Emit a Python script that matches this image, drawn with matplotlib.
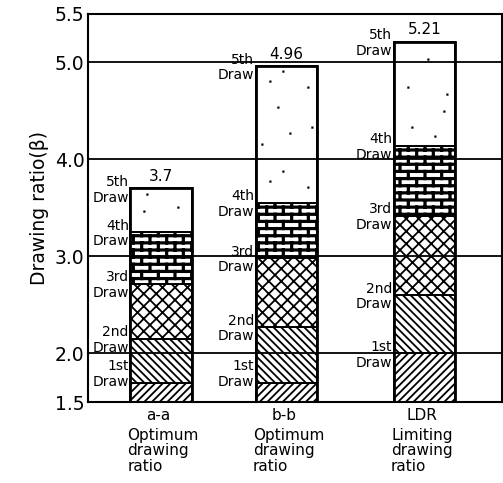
import warnings
warnings.filterwarnings("ignore")
import numpy as np
import matplotlib
matplotlib.use("Agg")
import matplotlib.pyplot as plt
from matplotlib import hatch as mhatch
from matplotlib.path import Path

# ---------------- data ----------------
categories = ["a-a", "b-b", "LDR"]
cat_desc = ["Optimum\ndrawing\nratio", "Optimum\ndrawing\nratio", "Limiting\ndrawing\nratio"]
x_pos = [0.0, 1.0, 2.1]
# cumulative drawing ratio at the end of each draw (1st..5th)
aa_tops = [1.70, 2.15, 2.72, 3.25, 3.70]
bb_tops = [1.70, 2.27, 2.98, 3.55, 4.96]
ldr_tops = [2.00, 2.60, 3.42, 4.14, 5.21]
draw_labels = ["1st\nDraw", "2nd\nDraw", "3rd\nDraw", "4th\nDraw", "5th\nDraw"]
total_labels = ["3.7", "4.96", "5.21"]
y_base = 1.5
y_ticks = [1.5, 2.0, 3.0, 4.0, 5.0, 5.5]
y_ticklabels = ["1.5", "2.0", "3.0", "4.0", "5.0", "5.5"]
grid_vals = [2.0, 3.0, 4.0, 5.0]


# ---------------- custom hatches ----------------
class CustomHatch(mhatch.HatchPatternBase):
    NE_N = 26
    SE_N = 26
    X_N = 16
    BR_R, BR_C = 14, 6
    DOTS = [(0.08, 0.12), (0.47, 0.05), (0.83, 0.28), (0.28, 0.40), (0.62, 0.55),
            (0.12, 0.72), (0.44, 0.88), (0.90, 0.66), (0.70, 0.18), (0.35, 0.63),
            (0.78, 0.92), (0.55, 0.33)]
    DS = 0.008

    def __init__(self, hatch, density):
        self.ne = self.NE_N if 'n' in hatch else 0
        self.se = self.SE_N if 's' in hatch else 0
        self.cx = self.X_N if 'c' in hatch else 0
        self.br = 'b' in hatch
        self.dt = 'd' in hatch
        nv = 0
        if self.ne:
            nv += 2 * (self.ne + 1)
        if self.se:
            nv += 2 * (self.se + 1)
        if self.cx:
            nv += 4 * (self.cx + 1)
        if self.br:
            nv += 2 * (self.BR_R + 1) + 2 * self.BR_R * (self.BR_C + 1)
        if self.dt:
            nv += 5 * len(self.DOTS)
        self.num_vertices = nv

    @staticmethod
    def _diag(n, sign):
        steps = np.linspace(-0.5, 0.5, n + 1)
        v = np.empty((2 * (n + 1), 2))
        if sign > 0:
            v[0::2, 0] = 0.0 + steps; v[0::2, 1] = 0.0 - steps
            v[1::2, 0] = 1.0 + steps; v[1::2, 1] = 1.0 - steps
        else:
            v[0::2, 0] = 0.0 + steps; v[0::2, 1] = 1.0 + steps
            v[1::2, 0] = 1.0 + steps; v[1::2, 1] = 0.0 + steps
        c = np.empty(2 * (n + 1), dtype=Path.code_type)
        c[0::2] = Path.MOVETO; c[1::2] = Path.LINETO
        return v, c

    def set_vertices_and_codes(self, vertices, codes):
        vs, cs = [], []
        if self.ne:
            v, c = self._diag(self.ne, 1); vs.append(v); cs.append(c)
        if self.se:
            v, c = self._diag(self.se, -1); vs.append(v); cs.append(c)
        if self.cx:
            v, c = self._diag(self.cx, 1); vs.append(v); cs.append(c)
            v, c = self._diag(self.cx, -1); vs.append(v); cs.append(c)
        if self.br:
            R, C = self.BR_R, self.BR_C
            v = []; c = []
            for k in range(R + 1):
                v += [(0, k / R), (1, k / R)]; c += [Path.MOVETO, Path.LINETO]
            for k in range(R):
                off = 0.5 / C if k % 2 else 0.0
                for j in range(C + 1):
                    xx = j / C + off
                    v += [(xx, k / R), (xx, (k + 1) / R)]; c += [Path.MOVETO, Path.LINETO]
            vs.append(np.array(v, float)); cs.append(np.array(c, dtype=Path.code_type))
        if self.dt:
            v = []; c = []
            s = self.DS
            for (px, py) in self.DOTS:
                v += [(px, py), (px + s, py), (px + s, py + s), (px, py + s), (px, py)]
                c += [Path.MOVETO, Path.LINETO, Path.LINETO, Path.LINETO, Path.CLOSEPOLY]
            vs.append(np.array(v, float)); cs.append(np.array(c, dtype=Path.code_type))
        if vs:
            vertices[:] = np.concatenate(vs)
            codes[:] = np.concatenate(cs)


mhatch._hatch_types.append(CustomHatch)

seg_hatches = ['n', 's', 'c', 'b', 'd']
seg_hlw = [1.3, 1.3, 1.3, 2.3, 1.0]

# ---------------- figure ----------------
plt.rcParams['font.family'] = ['DejaVu Sans']
plt.rcParams['hatch.linewidth'] = 1.3

W, H = 503, 483
fig = plt.figure(figsize=(W / 100, H / 100), dpi=100)
L, R_, T, B = 88, 502, 13.5, 402
ax = fig.add_axes([L / W, (H - B) / H, (R_ - L) / W, (B - T) / H])

ppu = 125.5
ax.set_xlim(-(161 - L) / ppu, (R_ - 161) / ppu)
ax.set_ylim(1.5, 5.5)
bar_w = 0.49

for g in grid_vals:
    ax.axhline(g, color='black', lw=1.3, zorder=3)

all_tops = [aa_tops, bb_tops, ldr_tops]
for i, (xp, tops) in enumerate(zip(x_pos, all_tops)):
    bottoms = [y_base] + tops[:-1]
    heights = [t - b for t, b in zip(tops, bottoms)]
    for k in range(5):
        bc = ax.bar(xp, heights[k], bottom=bottoms[k], width=bar_w, color='white',
                    edgecolor='black', linewidth=1.4, hatch=seg_hatches[k], zorder=2)
        for p in bc.patches:
            if hasattr(p, 'set_hatch_linewidth'):
                p.set_hatch_linewidth(seg_hlw[k])
        dy = 6 if heights[k] < 0.3 else -1
        ax.annotate(draw_labels[k], xy=(xp - bar_w / 2, tops[k]), xytext=(-1, dy),
                    textcoords='offset points', ha='right', va='center', fontsize=10,
                    linespacing=1.15, zorder=4)
    # outline
    ax.bar(xp, tops[-1] - y_base, bottom=y_base, width=bar_w, fill=False,
           edgecolor='black', linewidth=2.0, zorder=3.5)
    ax.annotate(total_labels[i], xy=(xp, tops[-1]), xytext=(0, 3),
                textcoords='offset points', ha='center', va='bottom', fontsize=11)
    # category labels under axis
    ax.annotate(categories[i], xy=(xp, 0), xycoords=('data', 'axes fraction'),
                xytext=(-2, -10), textcoords='offset points', ha='center', va='center',
                fontsize=11, annotation_clip=False)
    ax.annotate(cat_desc[i], xy=(xp - bar_w / 2, 0), xycoords=('data', 'axes fraction'),
                xytext=(-2, -18.5), textcoords='offset points', ha='left', va='top',
                fontsize=11, linespacing=1.05, annotation_clip=False)

ax.set_xticks([])
ax.set_yticks(y_ticks)
ax.set_yticklabels(y_ticklabels)
ax.tick_params(axis='y', length=0, pad=2.5, labelsize=13.5)
for sp in ax.spines.values():
    sp.set_linewidth(1.5)
    sp.set_zorder(5)

ax.set_ylabel("Drawing ratio(β)", fontsize=13.5)
ax.yaxis.set_label_coords(-(L - 40) / (R_ - L), 0.5)
ax.yaxis.label.set_va('center')

fig.savefig("out.png", dpi=100)
